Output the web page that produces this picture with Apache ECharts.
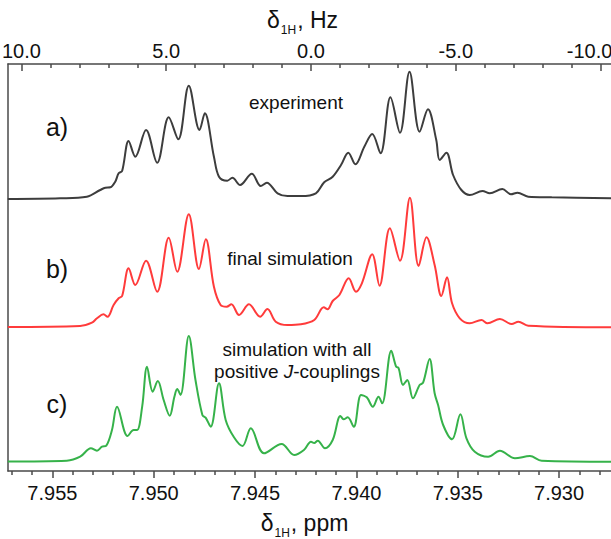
<!DOCTYPE html>
<html>
<head>
<meta charset="utf-8">
<script src="https://cdn.jsdelivr.net/npm/echarts@6/dist/echarts.min.js"></script>
<style>
  html, body { margin: 0; padding: 0; background: #fff; }
  #chart { width: 611px; height: 539px; }
</style>
</head>
<body>
<div id="chart"></div>
<script>
// 1H spectra: chemical shift (ppm) and intensity (a.u., baseline = 0)
const ppmA = [7.9572, 7.95462, 7.95330, 7.95264, 7.95239, 7.95214, 7.95190, 7.95173, 7.95156, 7.95124, 7.95091, 7.95038, 7.94983, 7.94926, 7.94879, 7.94827, 7.94774, 7.94748, 7.94703, 7.94678, 7.94637, 7.94612, 7.94574, 7.94516, 7.94472, 7.94442, 7.94389, 7.94340, 7.94274, 7.94200, 7.94159, 7.94117, 7.94076, 7.94040, 7.94005, 7.93961, 7.93922, 7.93881, 7.93832, 7.93785, 7.93738, 7.93688, 7.93647, 7.93606, 7.93589, 7.93556, 7.93523, 7.93482, 7.93441, 7.93378, 7.93342, 7.93280, 7.93238, 7.93205, 7.93152, 7.93036, 7.9273];
const intA = [-1, -0.3, 1.3, 8, 10.3, 10.7, 16.3, 24.7, 27, 57, 41.3, 68, 35.3, 80.7, 58.7, 112.3, 68, 84.7, 41.3, 21.3, 17.3, 20.3, 13, 24.3, 12, 15.3, 4.7, 2, 2, 4.7, 15.7, 21.3, 33, 45.3, 33.7, 51.3, 64, 44.7, 100.7, 65.3, 126.3, 66.3, 88.7, 58, 38, 45.3, 23, 8, 3, 7, 4.7, 9, 3.7, 5.3, 1.3, 0.7, -0.3];

const ppmB = [7.9572, 7.95363, 7.95305, 7.95280, 7.95248, 7.95228, 7.95198, 7.95173, 7.95156, 7.95124, 7.95091, 7.95038, 7.94983, 7.94926, 7.94884, 7.94827, 7.94777, 7.94743, 7.94703, 7.94670, 7.94640, 7.94617, 7.94579, 7.94530, 7.94475, 7.94439, 7.94398, 7.94340, 7.94274, 7.94208, 7.94161, 7.94142, 7.94117, 7.94084, 7.94038, 7.94002, 7.93973, 7.93922, 7.93886, 7.93835, 7.93785, 7.93736, 7.93693, 7.93654, 7.93614, 7.93581, 7.93553, 7.93528, 7.93490, 7.93441, 7.93383, 7.93353, 7.93292, 7.93234, 7.93201, 7.93152, 7.9273];
const intB = [-1, 0, 3.3, 7.7, 11.7, 9.3, 21, 27.7, 30, 57.7, 41, 65.3, 34.3, 88.3, 54.3, 111.7, 57, 86.7, 39.3, 21, 19.3, 21.7, 11, 21.7, 9.3, 17, 4.3, 1, 1.7, 6, 18.7, 16.7, 25, 31, 47.7, 34.3, 42.7, 71.7, 40.3, 97.7, 65.3, 128.3, 60, 88.7, 61, 30, 48.7, 22.7, 7.7, 2.7, 6, 2.7, 7, 2, 4.3, 0.3, -1.3];

const ppmC = [7.9572, 7.95429, 7.95363, 7.95310, 7.95280, 7.95255, 7.95234, 7.95206, 7.95181, 7.95129, 7.95099, 7.95082, 7.95057, 7.95033, 7.95005, 7.94980, 7.94951, 7.94921, 7.94898, 7.94884, 7.94868, 7.94827, 7.94794, 7.94760, 7.94744, 7.94719, 7.94678, 7.94645, 7.94604, 7.94562, 7.94521, 7.94456, 7.94369, 7.94307, 7.94259, 7.94224, 7.94208, 7.94191, 7.94155, 7.94117, 7.94079, 7.94063, 7.94043, 7.94013, 7.93977, 7.93949, 7.93919, 7.93891, 7.93873, 7.93828, 7.93804, 7.93792, 7.93770, 7.93749, 7.93721, 7.93688, 7.93671, 7.93639, 7.93614, 7.93597, 7.93572, 7.93528, 7.93487, 7.93457, 7.93416, 7.93350, 7.93292, 7.93218, 7.93144, 7.93086, 7.9273];
const intC = [0, 0.8, 4.8, 13.2, 10.8, 14.8, 15.8, 31.5, 54.8, 25.5, 31.5, 31.5, 54.8, 94.8, 69.8, 80.5, 61.5, 45.8, 64.8, 72.5, 66.5, 125.5, 81.5, 46.5, 43.8, 34.8, 78.2, 41.5, 24.2, 15.5, 33.2, 8.2, 17.5, 6.5, 11.5, 19.8, 18.5, 20.8, 13.2, 21.5, 45.5, 42.2, 44.2, 34.8, 66.5, 64.2, 54.8, 64.8, 58.2, 110.8, 94.8, 93.5, 76.5, 81.5, 63.2, 76.5, 78.8, 102.5, 68.2, 56.5, 36.5, 22.2, 47.2, 23.2, 9.8, 4.8, 10.8, 3.2, 5.5, 0.8, -0.2];

// axis ticks
const ppmMajor = [7.955, 7.950, 7.945, 7.940, 7.935, 7.930];
const ppmMinor = [7.957, 7.956, 7.954, 7.953, 7.952, 7.951, 7.949, 7.948, 7.947, 7.946, 7.944, 7.943, 7.942, 7.941, 7.939, 7.938, 7.937, 7.936, 7.934, 7.933, 7.932, 7.931, 7.929, 7.928];
const hzMajor = [10, 5, 0, -5, -10];
const hzMinor = [9, 8, 7, 6, 4, 3, 2, 1, -1, -2, -3, -4, -6, -7, -8, -9];

// spectrometer frequency (MHz) and Hz reference
const specFreq = 700;
const refPpm = 7.94224;
const ppmMin = 7.92734, ppmMax = 7.95719;

const FONT = '"Liberation Sans", Arial, Helvetica, sans-serif';
const AXIS_COLOR = '#4a4a4a';
const TICK_FONT = 20;

const traces = [
  { name: 'experiment', ppm: ppmA, y: intA, color: '#3d3d3d', offset: 273 },
  { name: 'final simulation', ppm: ppmB, y: intB, color: '#ff3b3b', offset: 145 },
  { name: 'simulation with all positive J-couplings', ppm: ppmC, y: intC, color: '#36b24a', offset: 9.5 }
];

const chart = echarts.init(document.getElementById('chart'), null, { renderer: 'svg' });

const toHz = p => (p - refPpm) * specFreq;

const nameRich = {
  g: { fontSize: 23, fontFamily: FONT, color: '#111', lineHeight: 28 },
  s: { fontSize: 12, fontFamily: FONT, color: '#111', lineHeight: 12, verticalAlign: 'bottom', padding: [0, 1, -2, 1] }
};

function bottomAxis(values, len, showLabel, withLine, withName) {
  return {
    type: 'value', position: 'bottom', min: ppmMin, max: ppmMax, inverse: true,
    axisLine: { show: withLine, onZero: false, lineStyle: { color: AXIS_COLOR, width: 1.5 } },
    axisTick: { show: true, inside: false, length: len, customValues: values, lineStyle: { color: AXIS_COLOR, width: 1.5 } },
    axisLabel: showLabel ? {
      show: true, customValues: values, margin: 12, color: '#111', fontSize: TICK_FONT, fontFamily: FONT,
      formatter: v => v.toFixed(3)
    } : { show: false },
    splitLine: { show: false },
    name: withName ? '{g|δ}{s|1H}{g|, ppm}' : '',
    nameLocation: 'middle', nameGap: 38,
    nameTextStyle: { rich: nameRich, padding: [0, 12, 0, 0] }
  };
}

// the right-most Hz label is nudged inwards so it stays inside the frame
const lastHz = hzMajor[hzMajor.length - 1];

function topAxis(values, len, showLabel, withLine, withName) {
  return {
    type: 'value', position: 'top', min: toHz(ppmMin), max: toHz(ppmMax), inverse: true,
    axisLine: { show: withLine, onZero: false, lineStyle: { color: AXIS_COLOR, width: 1.5 } },
    axisTick: { show: true, inside: true, length: len, customValues: values, lineStyle: { color: AXIS_COLOR, width: 1.5 } },
    axisLabel: showLabel ? {
      show: true, customValues: values, margin: 3, color: '#111', fontSize: TICK_FONT, fontFamily: FONT,
      formatter: v => (v === lastHz ? '{e|' + v.toFixed(1) + '}' : v.toFixed(1)),
      rich: { e: { fontSize: TICK_FONT, fontFamily: FONT, color: '#111', padding: [0, 22, 0, 0] } }
    } : { show: false },
    splitLine: { show: false },
    name: withName ? '{g|δ}{s|1H}{g|, Hz}' : '',
    nameLocation: 'middle', nameGap: 29,
    nameTextStyle: { rich: nameRich, padding: [0, 16, 0, 0] }
  };
}

const txt = (text, x, y, size, extra) => ({
  type: 'text', x: x, y: y,
  style: Object.assign({ text: text, fill: '#111', font: size + 'px ' + FONT, textAlign: 'center', textVerticalAlign: 'middle' }, extra || {})
});

chart.setOption({
  animation: false,
  backgroundColor: '#fff',
  grid: { left: 8, top: 64, width: 605, height: 407, containLabel: false, outerBoundsMode: 'none' },
  xAxis: [
    bottomAxis(ppmMajor, 7, true, true, true),
    bottomAxis(ppmMinor, 4, false, false, false),
    topAxis(hzMajor, 7, true, true, true),
    topAxis(hzMinor, 4, false, false, false)
  ],
  yAxis: {
    type: 'value', min: 0, max: 407,
    axisLine: { show: true, onZero: false, lineStyle: { color: AXIS_COLOR, width: 1.5 } },
    axisTick: { show: false }, axisLabel: { show: false }, splitLine: { show: false }
  },
  series: traces.map(t => ({
    type: 'line', name: t.name, xAxisIndex: 0, yAxisIndex: 0,
    showSymbol: false, smooth: 0.35, clip: true,
    lineStyle: { color: t.color, width: 2 },
    data: t.ppm.map((p, i) => [p, t.y[i] + t.offset])
  })),
  graphic: [
    txt('a)', 57, 127, 25),
    txt('b)', 57, 269, 25),
    txt('c)', 57, 404, 25),
    txt('experiment', 296, 102, 19),
    txt('final simulation', 290, 258, 19),
    txt('simulation with all', 297, 349, 19),
    {
      type: 'text', x: 297, y: 371,
      style: {
        text: '{n|positive }{i|J}{n|-couplings}',
        textAlign: 'center', textVerticalAlign: 'middle',
        rich: {
          n: { fontSize: 19, fontFamily: FONT, fill: '#111' },
          i: { fontSize: 19, fontFamily: FONT, fontStyle: 'italic', fill: '#111' }
        }
      }
    }
  ]
});
</script>
</body>
</html>
